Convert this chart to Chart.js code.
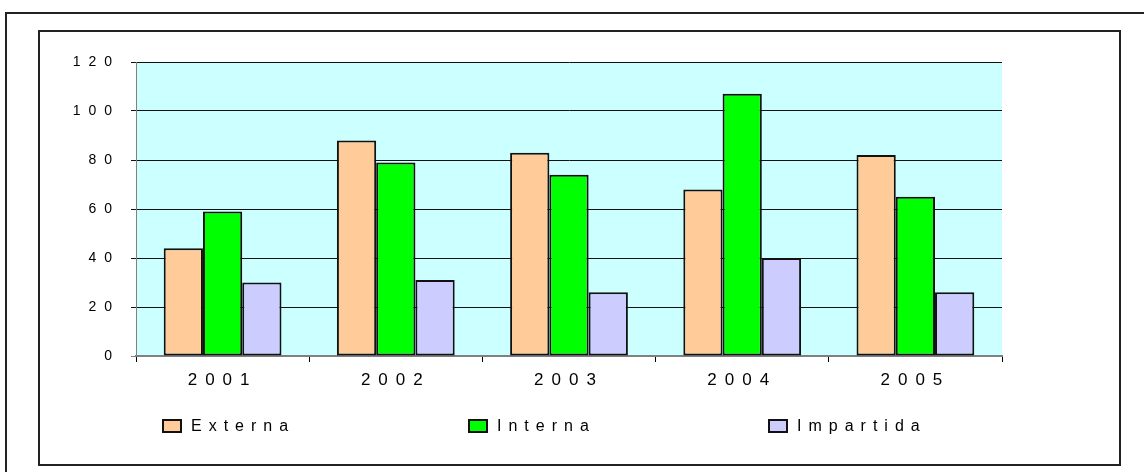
<!DOCTYPE html>
<html lang="es">
<head>
  <meta charset="UTF-8">
  <title>Externa / Interna / Impartida 2001-2005</title>
  <script src="https://cdn.jsdelivr.net/npm/chart.js@4.4.1/dist/chart.umd.min.js"></script>
  <style>
    body {
      margin: 0;
      background: #fff;
      font-family: 'Liberation Sans', Arial, sans-serif;
    }

    .page {
      position: relative;
      width: 1144px;
      height: 472px;
      overflow: hidden;
    }

    .outer {
      position: absolute;
      left: 5px;
      top: 12px;
      width: 1160px;
      height: 480px;
      border: 2px solid #222;
    }

    .inner {
      position: absolute;
      left: 38px;
      top: 30px;
      width: 1079px;
      height: 432px;
      border: 2px solid #222;
    }

    canvas {
      position: absolute;
      left: 0;
      top: 0;
    }

    .legend-item {
      position: absolute;
      top: 418px;
      display: flex;
      align-items: center;
      font-size: 16px;
      letter-spacing: 7px;
      color: #000;
      line-height: 16px;
    }

    .legend-item span.box {
      display: inline-block;
      width: 16px;
      height: 10px;
      border: 2px solid #111;
      margin-right: 9px;
    }
  </style>
</head>

<body>
  <div class="page">
    <div class="outer"></div>
    <div class="inner"></div>
    <canvas id="chart" width="1144" height="472"></canvas>
    <div id="legend"></div>
  </div>

  <script>
    // data
    const years = ['2001', '2002', '2003', '2004', '2005'];
    const externa = [44, 88, 83, 68, 82];
    const interna = [59, 79, 74, 107, 65];
    const impartida = [30, 31, 26, 40, 26];

    const seriesNames = ['Externa', 'Interna', 'Impartida'];
    const seriesColors = ['#FFCC99', '#00FF00', '#CCCCFF'];
    const legendLeft = [162, 468, 768];

    const font = 'Liberation Sans';

    // plot background + spaced out glyphs like the original
    const plotStyle = {
      id: 'plotStyle',
      beforeUpdate(chart) {
        chart.ctx.letterSpacing = '8px';
      },
      beforeDraw(chart) {
        const { ctx, chartArea: a } = chart;
        ctx.letterSpacing = '8px';
        ctx.save();
        ctx.fillStyle = '#CCFFFF';
        ctx.fillRect(a.left, a.top, a.right - a.left, a.bottom - a.top);
        ctx.restore();
      }
    };

    const ctx = document.getElementById('chart');
    const chart = new Chart(ctx, {
      type: 'bar',
      data: {
        labels: years,
        datasets: [externa, interna, impartida].map((d, i) => ({
          label: seriesNames[i],
          data: d,
          backgroundColor: seriesColors[i],
          borderColor: '#111',
          borderWidth: 2,
          borderSkipped: false,
          categoryPercentage: 0.68,
          barPercentage: 1.0
        }))
      },
      options: {
        responsive: false,
        animation: false,
        layout: {
          padding: { left: 40, top: 62, right: 142, bottom: 76 }
        },
        plugins: {
          legend: { display: false },
          tooltip: { enabled: false }
        },
        scales: {
          x: {
            grid: {
              offset: true,
              drawOnChartArea: false,
              color: '#000',
              tickLength: 6
            },
            border: { color: '#808080', width: 2 },
            ticks: {
              color: '#000',
              font: { family: font, size: 17 },
              padding: 8,
              maxRotation: 0,
              autoSkip: false
            },
            afterFit(s) { s.height = 40; }
          },
          y: {
            min: 0,
            max: 120,
            ticks: {
              stepSize: 20,
              color: '#000',
              font: { family: font, size: 14 },
              padding: 11
            },
            grid: {
              color: (c) => c.tick && c.tick.value === 0 ? '#808080' : '#111',
              tickLength: 5
            },
            border: { color: '#808080', width: 1 },
            afterFit(s) { s.width = 96; }
          }
        }
      },
      plugins: [plotStyle]
    });

    // legend row, spread out like the spreadsheet one
    const legend = document.getElementById('legend');
    chart.data.datasets.forEach((ds, i) => {
      const item = document.createElement('div');
      item.className = 'legend-item';
      item.style.left = legendLeft[i] + 'px';
      const box = document.createElement('span');
      box.className = 'box';
      box.style.background = ds.backgroundColor;
      item.appendChild(box);
      item.appendChild(document.createTextNode(ds.label));
      legend.appendChild(item);
    });
  </script>
</body>

</html>
